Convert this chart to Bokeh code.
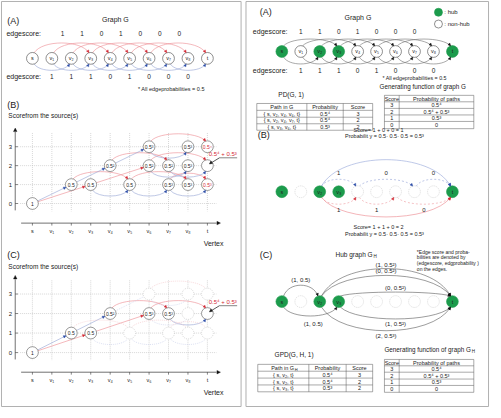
import math
from bokeh.plotting import figure
from bokeh.models import Range1d, ColumnDataSource, Arrow, NormalHead
from bokeh.core.properties import value
from bokeh.embed import file_html
from bokeh.resources import INLINE

FONT = "Liberation Sans"

# ---------------- data ----------------
vertices = ["s", "v₁", "v₂", "v₃", "v₄", "v₅", "v₆", "v₇", "v₈", "t"]
hubs = ["s", "v₂", "v₃", "t"]
edgescore_long = [1, 1, 0, 1, 0, 0, 0]        # edges v_i -> v_(i+3)
edgescore_short = [1, 1, 1, 0, 1, 0, 0, 0]    # edges v_i -> v_(i+2)
score_ticks = [0, 1, 2, 3]

# score lattice (B): vertex index, score, label
lat_vertex = [0, 2, 3, 5, 7, 8, 9, 4, 6, 7, 8, 9, 6, 8, 9]
lat_score = [0, 1, 1, 1, 1, 1, 1, 2, 2, 2, 2, 2, 3, 3, 3]
lat_label = ["1", "0.5", "0.5", "0.5", "0.5³", "0.5³", "0.5³",
             "0.5²", "0.5²", "0.5²", "0.5³", "", "0.5³", "0.5³", "0.5⁴"]
lat_red = [False, False, False, False, False, False, True,
           False, False, False, False, False, False, False, True]
# lattice edges: from vertex, from score, to vertex, to score, colour, shape
lat_edges = [
    (0, 0, 2, 1, "blue", "line"), (0, 0, 3, 1, "red", "line"),
    (2, 1, 4, 2, "blue", "line"), (3, 1, 6, 2, "red", "line"),
    (4, 2, 6, 3, "blue", "line"),
    (2, 1, 5, 1, "red", "over"), (3, 1, 5, 1, "blue", "under"),
    (5, 1, 8, 1, "red", "over"), (5, 1, 7, 1, "blue", "under"),
    (7, 1, 9, 1, "blue", "under"), (7, 1, 9, 1, "red", "over"),
    (4, 2, 7, 2, "red", "over"), (6, 2, 9, 2, "red", "over"),
    (6, 2, 8, 2, "blue", "under"), (7, 2, 9, 2, "blue", "under"),
    (6, 3, 9, 3, "red", "over"), (6, 3, 8, 3, "blue", "under"),
]
sum_label = "0.5⁴ + 0.5³"
# panel (C): hub-related part of the lattice
c_nodes = [(0, 0), (2, 1), (3, 1), (4, 2), (6, 2), (7, 2), (9, 2)]
c_labels = ["1", "0.5", "0.5", "0.5²", "0.5³", "0.5³", ""]
c_edges = [0, 1, 2, 3, 11, 12, 14]

# tables
pd_paths = ["{ s, v₂, v₄, v₆, t}", "{ s, v₂, v₄, v₇, t}", "{ s, v₃, v₆, t}"]
pd_probs = ["0.5⁴", "0.5⁴", "0.5³"]
pd_scores = [3, 2, 2]
gf_scores = [3, 2, 1, 0]
gf_probs = ["0.5⁴", "0.5⁴ + 0.5³", "0.5³", "0"]
gpd_paths = ["{ s, v₂, t}", "{ s, v₂, t}", "{ s, v₃, t}"]
gpd_probs = ["0.5⁴", "0.5⁴", "0.5³"]
gpd_scores = [3, 2, 2]

# right (B): two example paths in G
path_top = [2, 4, 7, 9]
path_bottom = [2, 4, 6, 9]

# hub graph edges
hub_src = ["s", "s", "v₂", "v₂", "v₃", "v₃", "v₂"]
hub_dst = ["v₂", "v₃", "t", "t", "t", "t", "t"]
hub_escore = [1, 1, 1, 0, 0, 1, 2]
hub_eprob = ["0.5", "0.5", "0.5²", "0.5²", "0.5²", "0.5²", "0.5³"]

# ---------------- layout / style ----------------
SC = 490 / 499.0
R = 6.0
RED_L, RED_D, RED_F = "#ec8a91", "#d42a35", "#f3c3c6"
BLUE_L, BLUE_D, BLUE_F = "#94a3d4", "#2e4ea8", "#c6cde9"
GREEN = "#1c9b4c"
GRID = "#bcbcbc"
AX = "#333333"
GRAY_ARC = "#707070"
HS = 2.6


def LX(i):
    return 33.5 + 19.8 * i


def RX(i):
    return 287.5 + 19.3 * i


TXT, SEG, BEZ, HEAD, NODE = {}, {}, {}, {}, {}


def T(x, y, s, size=6.0, color="#222222", align="center", style="normal"):
    d = TXT.setdefault((size, color, align, style), {"x": [], "y": [], "t": []})
    d["x"].append(x); d["y"].append(y); d["t"].append(s)


def S(x0, y0, x1, y1, color=AX, width=0.6, dash="solid"):
    d = SEG.setdefault((color, width, dash), {"x0": [], "y0": [], "x1": [], "y1": []})
    d["x0"].append(x0); d["y0"].append(y0); d["x1"].append(x1); d["y1"].append(y1)


def B(x0, y0, cx0, cy0, cx1, cy1, x1, y1, color, width=0.6, dash="solid"):
    keys = ("x0", "y0", "cx0", "cy0", "cx1", "cy1", "x1", "y1")
    d = BEZ.setdefault((color, width, dash), {k: [] for k in keys})
    for k, v in zip(keys, (x0, y0, cx0, cy0, cx1, cy1, x1, y1)):
        d[k].append(v)


def H(xe, ye, ux, uy, color, size=HS):
    d = HEAD.setdefault((color, size), {"xs": [], "ys": [], "xe": [], "ye": []})
    d["xs"].append(xe - ux * 1.2); d["ys"].append(ye - uy * 1.2)
    d["xe"].append(xe); d["ye"].append(ye)


def N(x, y, fill="white", line="#444444", dash="solid", size=2 * R * SC, width=0.6):
    d = NODE.setdefault((fill, line, dash, size, width), {"x": [], "y": []})
    d["x"].append(x); d["y"].append(y)


def arc(xa, ya, xb, yb, side, peak, color, hcolor=None, width=0.6, dash="solid", arrow=True):
    sg = -1 if side == "over" else 1
    dr = 1 if xb > xa else -1
    x0, y0 = xa + dr * 0.3 * R, ya + sg * 0.95 * R
    x1, y1 = xb - dr * 0.3 * R, yb + sg * 0.95 * R
    k = peak / 0.75
    dx = x1 - x0
    cx0, cy0 = x0 + 0.15 * dx, y0 + sg * k
    cx1, cy1 = x1 - 0.15 * dx, y1 + sg * k
    B(x0, y0, cx0, cy0, cx1, cy1, x1, y1, color, width, dash)
    if arrow:
        vx, vy = x1 - cx1, y1 - cy1
        n = math.hypot(vx, vy)
        H(x1, y1, vx / n, vy / n, hcolor or color)
    return (x0 + x1) / 2, min(y0, y1) - peak if sg < 0 else max(y0, y1) + peak


def line(xa, ya, xb, yb, color, hcolor=None, width=0.6, dash="solid", arrow=True):
    vx, vy = xb - xa, yb - ya
    n = math.hypot(vx, vy)
    ux, uy = vx / n, vy / n
    x0, y0 = xa + ux * R, ya + uy * R
    x1, y1 = xb - ux * R, yb - uy * R
    B(x0, y0, x0 + (x1 - x0) / 3, y0 + (y1 - y0) / 3, x0 + 2 * (x1 - x0) / 3,
      y0 + 2 * (y1 - y0) / 3, x1, y1, color, width, dash)
    if arrow:
        H(x1, y1, ux, uy, hcolor or color)


def table(cols, rows, cells, size=5.5):
    for y in rows:
        S(cols[0], y, cols[-1], y, "#555555", 0.5)
    for x in cols:
        S(x, rows[0], x, rows[-1], "#555555", 0.5)
    for r, row in enumerate(cells):
        for c, txt in enumerate(row):
            if txt is not None:
                T((cols[c] + cols[c + 1]) / 2, (rows[r] + rows[r + 1]) / 2, txt, size)


# ---------------- panel borders ----------------
for (l, r_, t_, b_) in [(2, 246, 2, 415), (251, 498, 2, 415)]:
    S(l, t_, r_, t_, "#b0b0b0", 1); S(l, b_, r_, b_, "#b0b0b0", 1)
    S(l, t_, l, b_, "#b0b0b0", 1); S(r_, t_, r_, b_, "#b0b0b0", 1)

# ---------------- left (A) ----------------
T(8, 22, "(A)", 9, align="left")
T(118, 20, "Graph G", 7)
T(7, 35, "edgescore:", 7, align="left")
T(7, 78, "edgescore:", 7, align="left")
YA = 60
for i, sc in enumerate(edgescore_long):
    arc(LX(i), YA, LX(i + 3), YA, "over", 10, RED_L, RED_D)
    T((LX(i) + LX(i + 3)) / 2 + 1, 35, str(sc), 6.5)
for i, sc in enumerate(edgescore_short):
    arc(LX(i), YA, LX(i + 2), YA, "under", 6.5, BLUE_L, BLUE_D)
    T((LX(i) + LX(i + 2)) / 2, 78, str(sc), 6.5)
for i, v in enumerate(vertices):
    N(LX(i), YA)
    T(LX(i), YA, v, 5.5)
T(141, 91, "* All edgeprobabilities = 0.5", 5.5, align="left")


# ---------------- left (B) and (C) ----------------
def lattice(Y, title, title_y, sub_y, highlight=False):
    T(8, title_y, title, 9, align="left")
    T(9, sub_y, "Scorefrom the source(s)", 6.5, align="left")
    top, bot = Y(score_ticks[-1]) - 14, Y(0) + 8
    for i in range(len(vertices)):
        S(LX(i), top, LX(i), bot, GRID, 0.6, "1 1")
    for k in score_ticks:
        S(21, Y(k), 221, Y(k), GRID, 0.6, "1 1")
        S(16, Y(k), 19, Y(k), AX, 0.6)
        T(11, Y(k), str(k), 6)
    S(16, Y(0) + 7, 16, Y(score_ticks[-1]) - 15, AX, 0.7)
    H(16, Y(score_ticks[-1]) - 19, 0, -1, "#111111", 3.5)
    xa = Y(0) + 20
    S(22, xa, 221, xa, AX, 0.7)
    H(225, xa, 1, 0, "#111111", 3.5)
    for i, v in enumerate(vertices):
        S(LX(i), xa, LX(i), xa + 2.5, AX, 0.6)
        T(LX(i), xa + 8, v, 5.5)
    T(218, xa + 21, "Vertex", 7)
    # edges
    for idx, (va, ka, vb, kb, col, shape) in enumerate(lat_edges):
        on = (not highlight) or idx in c_edges
        if on:
            lc, hc, dash = (RED_L, RED_D, "solid") if col == "red" else (BLUE_L, BLUE_D, "solid")
        else:
            lc, hc, dash = (RED_F, RED_F, "1 1") if col == "red" else (BLUE_F, BLUE_F, "1 1")
        if shape == "line":
            line(LX(va), Y(ka), LX(vb), Y(kb), lc, hc, dash=dash, arrow=on)
        else:
            pk = 6 if (vb - va) <= 2 else 7.5
            arc(LX(va), Y(ka), LX(vb), Y(kb), shape, pk, lc, hc, dash=dash, arrow=on)
    # nodes
    for v, k, lab, red in zip(lat_vertex, lat_score, lat_label, lat_red):
        if highlight:
            if (v, k) in c_nodes:
                j = c_nodes.index((v, k))
                N(LX(v), Y(k), line="#555555")
                if c_labels[j]:
                    T(LX(v), Y(k), c_labels[j], 5)
            else:
                N(LX(v), Y(k), line="#c0c0c0", dash="1 1")
        else:
            N(LX(v), Y(k), line="#555555")
            if lab:
                T(LX(v), Y(k), lab, 5, color=RED_D if red else "#222222")
    # pointer to the summed node
    tx, ty = LX(9), Y(2)
    T(213, ty - 12, sum_label, 6, color=RED_D, align="left")
    S(242, ty - 8, 224, ty - 8, "#333333", 0.6)
    S(224, ty - 8, tx + 2.5, ty - 2, "#111111", 0.7)
    H(tx + 2, ty - 1.7, -0.8, 0.6, "#111111", 3)


lattice(lambda k: 208 - 19.3 * k, "(B)", 108, 118)
lattice(lambda k: 360 - 19.9 * k, "(C)", 260, 272, highlight=True)

# ---------------- right (A) ----------------
T(265, 13, "(A)", 9, align="left")
T(365, 18, "Graph G", 7)
N(447, 13, fill=GREEN, line=GREEN, size=8)
T(453, 13, ": hub", 6, align="left")
N(447, 25, size=8)
T(453, 25, ": non-hub", 6, align="left")
T(258, 33, "edgescore:", 7, align="left")
T(258, 72, "edgescore:", 7, align="left")
YRA = 53
for i, sc in enumerate(edgescore_long):
    arc(RX(i), YRA, RX(i + 3), YRA, "over", 7, GRAY_ARC, "#111111")
    T(RX(i + 1), 33, str(sc), 6.5)
for i, sc in enumerate(edgescore_short):
    arc(RX(i), YRA, RX(i + 2), YRA, "under", 7, GRAY_ARC, "#111111")
    T(RX(i + 1), 72, str(sc), 6.5)
for i, v in enumerate(vertices):
    if v in hubs:
        N(RX(i), YRA, fill=GREEN, line=GREEN)
    else:
        N(RX(i), YRA)
    T(RX(i), YRA, v, 5.5)
T(390, 80, "* All edgeprobabilities = 0.5", 5.3, align="left")
T(387, 88.5, "Generating function of graph G", 6.3, align="left")
T(297, 97, "PD(G, 1)", 6.5)
table([262, 313, 350, 380], [106, 113, 120, 126.7, 133.3],
      [["Path in G", "Probability", "Score"]] +
      [[a, b, str(c)] for a, b, c in zip(pd_paths, pd_probs, pd_scores)])
table([392, 407, 483], [97.7, 104.3, 111, 117.7, 124.3, 131.7],
      [["Score", "Probability of paths"]] +
      [[str(a), b] for a, b in zip(gf_scores, gf_probs)])

# ---------------- right (B) ----------------
T(263, 138, "(B)", 9, align="left")


def edge_score(a, b):
    return edgescore_short[a] if b - a == 2 else edgescore_long[a]


def path_texts(path):
    sc = [edge_score(a, b) for a, b in zip(path, path[1:])]
    return ("Score= " + " + ".join(str(s) for s in sc) + " = " + str(sum(sc)),
            "Probabilit y = " + "· ".join("0.5" for _ in sc) + " = 0.5³")


s1, p1 = path_texts(path_top)
s2, p2 = path_texts(path_bottom)
T(386, 133, s1, 5.5); T(392, 139, p1, 5.5)
T(386, 232, s2, 5.5); T(392, 239, p2, 5.5)
YRB = 196
arc(RX(path_top[0]), YRB, RX(path_top[-1]), YRB, "over", 27, "#a3b2de", BLUE_D, width=0.7)
for a, b in zip(path_top, path_top[1:]):
    arc(RX(a), YRB, RX(b), YRB, "over", 7, "#93a3d6", BLUE_D, dash="2 2")
    T((RX(a) + RX(b)) / 2, 177, str(edge_score(a, b)), 6)
arc(RX(path_bottom[0]), YRB, RX(path_bottom[-1]), YRB, "under", 20, "#ee959b", RED_D, width=0.7)
for a, b in zip(path_bottom, path_bottom[1:]):
    arc(RX(a), YRB, RX(b), YRB, "under", 7, "#ee9aa0", RED_D, dash="2 2")
    T((RX(a) + RX(b)) / 2, 215, str(edge_score(a, b)), 6)
for i, v in enumerate(vertices):
    if v in hubs:
        N(RX(i), YRB, fill=GREEN, line=GREEN)
        T(RX(i), YRB, v, 5.5)
    else:
        N(RX(i), YRB, line="#c4c4c4", dash="1 1")

# ---------------- right (C) ----------------
T(265, 260, "(C)", 9, align="left")
T(380, 260, "Hub graph G", 6.5, align="right")
T(380.8, 262, "H", 4.5, align="left")
for j, ln in enumerate(["*Edge score and proba-", "bilities are denoted by",
                        "(edgescore, edgprobability )", "on the edges."]):
    T(425, 257 + 6 * j, ln, 5, align="left")
YRC = 308
hub_side = ["over", "under", "over", "over", "over", "under", "under"]
hub_peak = [11, 9, 28, 21, 4, 12, 24]
hub_label_dy = [-5, 8, -4, -4, -4, 5, 5]
hub_label_dx = [0, 3, 0, 0, 0, 0, 0]
for a, b, sc, pr, sd, pk, ldy, ldx in zip(hub_src, hub_dst, hub_escore, hub_eprob,
                                          hub_side, hub_peak, hub_label_dy, hub_label_dx):
    xa, xb = RX(vertices.index(a)), RX(vertices.index(b))
    mx, my = arc(xa, YRC, xb, YRC, sd, pk, "#5a5a5a", "#111111")
    T(mx + ldx, my + ldy, "(%d, %s)" % (sc, pr), 6)
for i, v in enumerate(vertices):
    if v in hubs:
        N(RX(i), YRC, fill=GREEN, line=GREEN)
        T(RX(i), YRC, v, 5.5)
    else:
        N(RX(i), YRC, line="#c4c4c4", dash="1 1")
T(300, 362, "GPD(G, H, 1)", 6.5)
T(480, 357, "Generating function of graph G", 6.3, align="right")
T(480.8, 359, "H", 4.5, align="left")
table([263, 315, 353, 380], [372, 379, 386, 393, 400],
      [[None, "Probability", "Score"]] +
      [[a, b, str(c)] for a, b, c in zip(gpd_paths, gpd_probs, gpd_scores)])
T(300, 375.5, "Path in G", 5.5, align="right")
T(300.6, 377, "H", 4, align="left")
table([392, 407, 483], [367, 373.5, 380, 387, 393.5, 400.5],
      [["Score", "Probability of paths"]] +
      [[str(a), b] for a, b in zip(gf_scores, gf_probs)])

# ---------------- render ----------------
p = figure(width=490, height=407, x_range=Range1d(1, 500), y_range=Range1d(416, 1),
           output_backend="svg", toolbar_location=None, min_border=0,
           x_axis_location=None, y_axis_location=None)
p.grid.visible = False
p.outline_line_color = None

for (c, w, dsh), d in SEG.items():
    p.segment(x0="x0", y0="y0", x1="x1", y1="y1", source=ColumnDataSource(d),
              line_color=c, line_width=w, line_dash=dsh)
for (c, w, dsh), d in BEZ.items():
    p.bezier(x0="x0", y0="y0", x1="x1", y1="y1", cx0="cx0", cy0="cy0", cx1="cx1", cy1="cy1",
             source=ColumnDataSource(d), line_color=c, line_width=w, line_dash=dsh)
for (fill, lc, dsh, size, w), d in NODE.items():
    p.scatter(x="x", y="y", source=ColumnDataSource(d), size=size, marker="circle",
              fill_color=fill, line_color=lc, line_dash=dsh, line_width=w)
for (size, color, align, style), d in TXT.items():
    p.text(x="x", y="y", text="t", source=ColumnDataSource(d), text_font=value(FONT),
           text_font_size="%gpx" % size, text_color=color, text_align=align,
           text_baseline="middle", text_font_style=style)
for (color, size), d in HEAD.items():
    p.add_layout(Arrow(end=NormalHead(size=size, fill_color=color, line_color=color, line_width=0.4),
                       x_start="xs", y_start="ys", x_end="xe", y_end="ye",
                       source=ColumnDataSource(d), line_alpha=0))

open("out.html", "w").write(file_html(p, INLINE))
